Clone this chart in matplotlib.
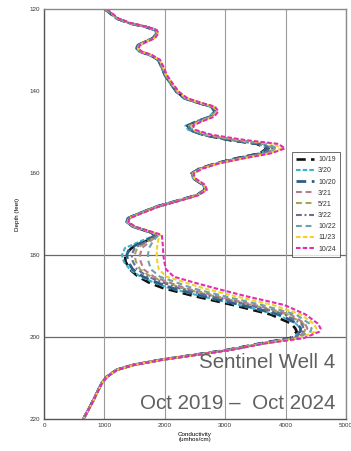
import matplotlib
matplotlib.use("Agg")
import matplotlib.pyplot as plt

plt.rcParams["font.family"] = ["Liberation Sans", "DejaVu Sans"]

# Depth (feet) shared by every survey, grouped by stretch of the log
depth = ([120, 122.3, 123.5, 124.3, 125.1, 125.9, 127.1, 128, 128.8, 129.6, 130.4,
          131.2, 132.4, 134.1, 136.1, 138.5, 140.2, 141.8, 143, 143.8, 145, 146.3,
          147.5, 148.5, 149.5]
         + [150.7, 152, 152.9, 154, 155.2, 156.4, 157.6]
         + [158.9, 160.1, 161.3, 162.9, 164.1, 165.4, 166.6, 168.2, 169.8, 171,
            171.9, 173.1, 174.3]
         + [175.1, 176.5, 178.3, 180, 181.6, 183.5, 185.3, 186.9, 188.1, 190,
            192.2, 194.5, 196.7, 197.9, 198.7, 200.3, 201.6]
         + [203.2, 204.4, 205.6, 206.8, 208, 209.7, 211.2, 215.4, 220])

# Conductivity (umhos/cm) per survey
c_1019 = ([1010, 1204, 1424, 1673, 1838, 1866, 1810, 1673, 1562, 1535, 1590, 1755, 1893,
           1949, 2004, 2115, 2197, 2335, 2583, 2777, 2832, 2749, 2529, 2380, 2418]
          + [2638, 3080, 3522, 3687, 3577, 3190, 2860]
          + [2583, 2446, 2473, 2638, 2666, 2529, 2252, 1866, 1590, 1396, 1369, 1479, 1728]
          + [1850, 1700, 1450, 1340, 1350, 1420, 1560, 1760, 1976, 2480, 3130, 3750,
             4090, 4160, 4185, 4074, 3577]
          + [3025, 2473, 1921, 1479, 1203, 1038, 955, 817, 651])
c_0320 = ([1000, 1195, 1415, 1665, 1830, 1858, 1800, 1662, 1550, 1522, 1578, 1745, 1885,
           1940, 1995, 2105, 2185, 2320, 2565, 2760, 2815, 2730, 2500, 2340, 2390]
          + [2640, 3100, 3540, 3700, 3590, 3200, 2865]
          + [2575, 2440, 2466, 2630, 2660, 2520, 2242, 1855, 1580, 1386, 1360, 1470, 1722]
          + [1860, 1620, 1340, 1290, 1320, 1420, 1600, 1850, 2080, 2590, 3230, 3850,
             4170, 4240, 4250, 4100, 3590]
          + [3040, 2480, 1925, 1482, 1205, 1040, 956, 816, 650])
c_1020 = ([1008, 1202, 1422, 1670, 1836, 1864, 1806, 1670, 1558, 1532, 1588, 1752, 1890,
           1946, 2000, 2112, 2193, 2330, 2578, 2772, 2828, 2742, 2520, 2370, 2410]
          + [2650, 3110, 3560, 3720, 3600, 3210, 2870]
          + [2580, 2444, 2470, 2636, 2664, 2526, 2248, 1862, 1586, 1392, 1366, 1476, 1730]
          + [1870, 1680, 1420, 1370, 1390, 1470, 1640, 1900, 2130, 2640, 3280, 3890,
             4190, 4250, 4240, 4100, 3590]
          + [3035, 2478, 1924, 1481, 1205, 1040, 957, 818, 652])
c_0321 = ([1018, 1212, 1432, 1680, 1846, 1874, 1818, 1682, 1570, 1544, 1600, 1764, 1902,
           1958, 2014, 2126, 2208, 2348, 2598, 2792, 2848, 2768, 2552, 2410, 2450]
          + [2690, 3180, 3650, 3820, 3670, 3260, 2890]
          + [2600, 2456, 2482, 2648, 2676, 2540, 2264, 1878, 1600, 1404, 1376, 1488, 1745]
          + [1890, 1770, 1620, 1590, 1600, 1650, 1820, 2110, 2340, 2850, 3490, 4080,
             4320, 4360, 4340, 4160, 3600]
          + [3055, 2490, 1932, 1487, 1208, 1042, 958, 819, 652])
c_0521 = ([1014, 1208, 1428, 1677, 1842, 1870, 1814, 1678, 1566, 1540, 1596, 1760, 1898,
           1954, 2010, 2121, 2203, 2342, 2592, 2786, 2842, 2760, 2545, 2400, 2440]
          + [2680, 3160, 3630, 3800, 3660, 3250, 2885]
          + [2595, 2452, 2478, 2644, 2672, 2536, 2260, 1874, 1597, 1401, 1373, 1485, 1740]
          + [1885, 1740, 1540, 1500, 1520, 1590, 1770, 2060, 2290, 2800, 3440, 4030,
             4290, 4330, 4310, 4150, 3600]
          + [3050, 2487, 1930, 1486, 1207, 1041, 957, 818, 651])
c_0322 = ([1012, 1206, 1426, 1675, 1840, 1868, 1812, 1676, 1564, 1538, 1593, 1758, 1896,
           1952, 2007, 2118, 2200, 2338, 2588, 2782, 2838, 2755, 2538, 2392, 2432]
          + [2670, 3140, 3610, 3780, 3640, 3240, 2880]
          + [2590, 2450, 2476, 2642, 2670, 2533, 2256, 1870, 1594, 1399, 1371, 1482, 1736]
          + [1880, 1720, 1500, 1450, 1470, 1540, 1720, 2000, 2230, 2740, 3380, 3980,
             4260, 4300, 4280, 4130, 3595]
          + [3045, 2484, 1928, 1484, 1206, 1040, 956, 817, 650])
c_1022 = ([1022, 1216, 1436, 1685, 1850, 1878, 1822, 1686, 1574, 1548, 1604, 1768, 1906,
           1962, 2018, 2130, 2214, 2355, 2606, 2800, 2856, 2776, 2562, 2420, 2462]
          + [2710, 3220, 3700, 3860, 3700, 3280, 2895]
          + [2608, 2460, 2487, 2652, 2680, 2545, 2270, 1884, 1605, 1408, 1380, 1492, 1752]
          + [1900, 1810, 1740, 1720, 1730, 1770, 1920, 2230, 2460, 2970, 3610, 4170,
             4390, 4430, 4410, 4190, 3610]
          + [3065, 2495, 1936, 1490, 1210, 1043, 959, 820, 653])
c_1123 = ([1028, 1222, 1442, 1690, 1856, 1884, 1828, 1692, 1580, 1554, 1610, 1774, 1912,
           1968, 2024, 2136, 2222, 2364, 2616, 2812, 2868, 2790, 2578, 2440, 2480]
          + [2740, 3280, 3800, 3930, 3740, 3300, 2900]
          + [2616, 2466, 2492, 2658, 2686, 2552, 2278, 1892, 1612, 1414, 1386, 1500, 1762]
          + [1920, 1890, 1870, 1866, 1875, 1900, 2030, 2380, 2640, 3150, 3790, 4250,
             4460, 4510, 4490, 4230, 3620]
          + [3075, 2500, 1940, 1493, 1212, 1045, 960, 821, 654])
c_1024 = ([1038, 1232, 1452, 1700, 1866, 1894, 1838, 1702, 1590, 1564, 1620, 1784, 1922,
           1978, 2034, 2146, 2234, 2378, 2632, 2830, 2888, 2812, 2600, 2465, 2510]
          + [2780, 3350, 3880, 3990, 3760, 3320, 2910]
          + [2630, 2476, 2502, 2668, 2696, 2562, 2290, 1904, 1622, 1422, 1394, 1510, 1778]
          + [1950, 1960, 1970, 1976, 1990, 2020, 2150, 2529, 2830, 3330, 3980, 4330,
             4530, 4580, 4560, 4300, 3650]
          + [3090, 2510, 1946, 1497, 1215, 1047, 962, 822, 655])

labels = ["10/19", "3/20", "10/20", "3/21", "5/21", "3/22", "10/22", "11/23", "10/24"]
series = [c_1019, c_0320, c_1020, c_0321, c_0521, c_0322, c_1022, c_1123, c_1024]

colors = ["#111111", "#3bb3c8", "#2e5f86", "#b77890", "#a3a35a",
          "#6b6b9c", "#6aa3a8", "#f2d22a", "#e12cb4"]
dashes = [(0, (3.5, 2)), (0, (2.2, 1)), (0, (3.5, 2)), (0, (2.8, 1.8)), (0, (2.8, 1.8)),
          (0, (2.8, 1.3, 0.9, 1.3)), (0, (2.8, 1.8)), (0, (2.2, 1.1)), (0, (2.2, 1))]
widths = [1.9, 1.5, 2.0, 1.5, 1.5, 1.5, 1.5, 1.5, 1.5]

depth_ticks = [120, 140, 160, 180, 200, 220]
cond_ticks = [0, 1000, 2000, 3000, 4000, 5000]
depth_gridlines = [180, 200]


def main():
    fig = plt.figure(figsize=(3.51, 4.51), dpi=100)
    ax = fig.add_axes([0.1254, 0.071, 0.8604, 0.909])

    for vals, lab, col, ls, lw in zip(series, labels, colors, dashes, widths):
        ax.plot(vals, depth, color=col, linestyle=ls, linewidth=lw, label=lab,
                solid_joinstyle="round", dash_joinstyle="round")

    ax.set_xlim(0, 5000)
    ax.set_ylim(220, 120)
    ax.set_xticks(cond_ticks)
    ax.set_yticks(depth_ticks)
    ax.tick_params(labelsize=4.5, length=0, pad=3, colors="#333333")

    ax.grid(axis="x", color="#9a9a9a", linewidth=0.8)
    for d in depth_gridlines:
        ax.axhline(d, color="#6a6a6a", linewidth=0.9, zorder=0.5)
    ax.set_axisbelow(True)

    for side in ["top", "right"]:
        ax.spines[side].set_color("#8a8a8a")
        ax.spines[side].set_linewidth(1.0)
    for side in ["left", "bottom"]:
        ax.spines[side].set_color("#555555")
        ax.spines[side].set_linewidth(1.0)

    ax.set_ylabel("Depth (feet)", fontsize=4.5, labelpad=7)
    ax.set_xlabel("Conductivity\n(umhos/cm)", fontsize=4.5, labelpad=3,
                  linespacing=1.0)

    leg = ax.legend(loc="upper right", bbox_to_anchor=(0.98, 0.651),
                    fontsize=5, frameon=True, fancybox=False,
                    handlelength=2.6, labelspacing=0.6, borderpad=0.6,
                    handletextpad=0.6, borderaxespad=0)
    leg.get_frame().set_edgecolor("#444444")
    leg.get_frame().set_linewidth(0.7)
    for t in leg.get_texts():
        t.set_color("#333333")

    ax.text(0.965, 0.125, "Sentinel Well 4", transform=ax.transAxes,
            ha="right", va="baseline", fontsize=14.8, color="#606060")
    ax.text(0.965, 0.025, "Oct 2019 \u2013  Oct 2024", transform=ax.transAxes,
            ha="right", va="baseline", fontsize=14.8, color="#606060")

    fig.savefig("out.png", dpi=100, facecolor="white")


if __name__ == "__main__":
    main()
